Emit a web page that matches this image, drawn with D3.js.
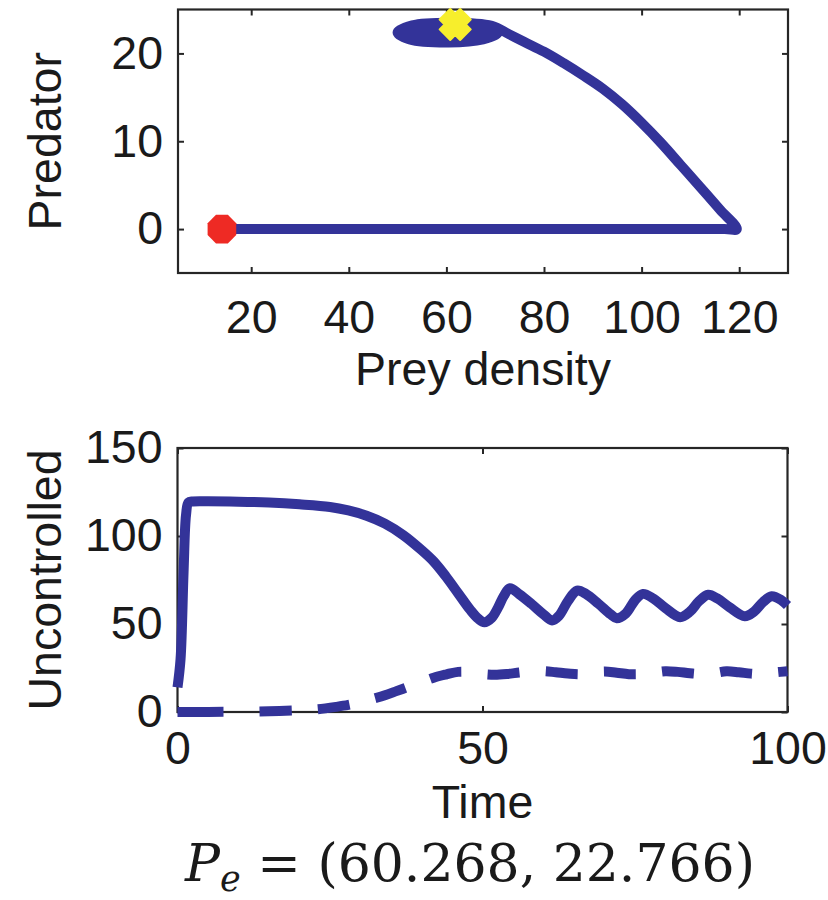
<!DOCTYPE html>
<html>
<head>
<meta charset="utf-8">
<script src="https://cdn.jsdelivr.net/npm/d3@7/dist/d3.min.js"></script>
<style>
    body { margin: 0; background: #fff; }
    svg text { font-family: "Liberation Sans", Arial, sans-serif; fill: #1a1a1a; }
</style>
</head>
<body>
<div id="chart"></div>
<script>
// phase portrait: prey density vs predator
const phasePrey = [14, 50, 90, 117, 119.5,
    116, 112, 108, 104, 100, 96, 92, 88, 84, 80, 76, 72.8,
    69.3, 61, 53, 50, 52.5, 60.5, 67.5,
    70.5, 67.5, 61, 54.5, 52, 54, 60.5, 66.5,
    69, 66.5, 61, 55.5, 53.5, 55.3, 60.5, 65.5,
    67.5, 65.5, 61, 56.5, 55, 56.5, 60.5, 64.5,
    66, 64.5, 61, 57.5, 56.5];
const phasePredator = [0, 0, 0, 0, 0,
    2.25, 4.8, 7.3, 9.8, 12.1, 14.2, 16.0, 17.5, 18.9, 20.2, 21.3, 22.2,
    23.15, 23.5, 23.2, 22.4, 21.6, 21.25, 21.6,
    22.3, 23.0, 23.3, 23.05, 22.4, 21.75, 21.45, 21.75,
    22.3, 22.9, 23.15, 22.95, 22.4, 21.85, 21.6, 21.85,
    22.35, 22.8, 23.0, 22.85, 22.45, 22.0, 21.85, 22.0,
    22.4, 22.75, 22.9, 22.75, 22.5];
const startPoint = [14, 0];
const starPoint = [61.8, 23.3];

// uncontrolled time series
const preyTimes = [0, 0.5, 1.0, 1.4, 1.8, 2.5, 5, 10, 15, 20, 25, 28, 31, 34, 37, 40, 42, 44, 46, 48, 49.3,
    50.3, 51.5, 52.5, 53.5, 54.5, 56, 58, 60, 61.4, 62.5, 64, 65.5, 67, 69, 71, 72, 73.5, 75,
    76.3, 78, 80, 82.4, 84, 85.5, 87, 88.5, 90.5, 93, 94.5, 96, 97.4, 99, 100];
const preyValues = [14, 30, 80, 112, 119, 119.6, 119.7, 119.5, 119, 118, 116.5, 114.5, 111.5, 107, 100.5, 92, 85.5, 77, 67.5, 58, 53,
    51, 53.5, 59, 66, 70.3, 67, 61.5, 55.5, 52, 54.5, 63, 69, 67, 61.5, 55.5, 53.3, 56, 63.5,
    67.1, 64.5, 59, 53.9, 57, 63, 66.6, 64.5, 59.5, 54.4, 57, 62.5, 65.8, 63.5, 60.5];
const predatorTimes = [0, 5, 10, 15, 20, 23, 26, 28, 30, 32, 34, 36, 38, 40, 42, 44, 46, 48, 50,
    52, 54, 56, 58, 60, 62, 64, 66, 68, 70, 72, 74, 76, 78, 80, 82, 84, 86, 88, 90, 92, 94, 96, 98, 100];
const predatorValues = [0, 0.05, 0.15, 0.4, 1, 1.6, 2.9, 4, 5.6, 7.5, 9.5, 12, 14.5, 17, 19.5, 21.3, 22.8, 22.6, 21.6,
    21.2, 21.6, 22.4, 23.1, 23.2, 22.6, 21.9, 21.5, 22.2, 23.0, 22.3, 21.5, 21.5, 22.3, 23.2, 22.8, 22.0,
    21.6, 22.1, 23.1, 22.6, 21.8, 21.6, 22.5, 23.2];

const phaseXTicks = [20, 40, 60, 80, 100, 120];
const phaseYTicks = [0, 10, 20];
const timeXTicks = [0, 50, 100];
const timeYTicks = [0, 50, 100, 150];

const lineColor = "#333399";
const axisColor = "#262626";
const fontSize = 46.5;

let svg = d3.select("#chart").append("svg")
    .attr("width", 828)
    .attr("height", 900);

// draws box, inward ticks on all four sides, labels on left/bottom
function drawFrame(x, y, xTicks, yTicks, xPad) {
    let g = svg.append("g");
    let x0 = x.range()[0], x1 = x.range()[1];
    let y0 = y.range()[0], y1 = y.range()[1];

    g.append("g").attr("transform", "translate(0," + y0 + ")")
        .call(d3.axisBottom(x).tickValues(xTicks).tickSizeInner(-6).tickSizeOuter(0).tickPadding(xPad));
    g.append("g").attr("transform", "translate(" + x0 + ",0)")
        .call(d3.axisLeft(y).tickValues(yTicks).tickSizeInner(-6).tickSizeOuter(0).tickPadding(15));
    g.append("g").attr("transform", "translate(0," + y1 + ")")
        .call(d3.axisTop(x).tickValues(xTicks).tickSizeInner(-6).tickSizeOuter(0).tickFormat(""));
    g.append("g").attr("transform", "translate(" + x1 + ",0)")
        .call(d3.axisRight(y).tickValues(yTicks).tickSizeInner(-6).tickSizeOuter(0).tickFormat(""));

    g.selectAll(".domain").remove();
    g.selectAll(".tick line").attr("stroke", axisColor).attr("stroke-width", 2);
    g.selectAll(".tick text").attr("font-size", fontSize).attr("fill", "#1a1a1a")
        .style("font-family", "'Liberation Sans', Arial, sans-serif");

    g.append("rect")
        .attr("x", x0).attr("y", y1)
        .attr("width", x1 - x0).attr("height", y0 - y1)
        .attr("fill", "none")
        .attr("stroke", axisColor)
        .attr("stroke-width", 2.2);
    return g;
}

// ---- top: phase portrait ----
let px = d3.scaleLinear().domain([5, 130]).range([178, 788]);
let py = d3.scaleLinear().domain([-5, 25]).range([273, 9.5]);

drawFrame(px, py, phaseXTicks, phaseYTicks, 27);

let phaseLine = d3.line()
    .x((d, i) => px(phasePrey[i]))
    .y((d, i) => py(phasePredator[i]))
    .curve(d3.curveCatmullRom.alpha(0.5));

svg.append("path")
    .datum(phasePrey)
    .attr("d", phaseLine)
    .attr("fill", "none")
    .attr("stroke", lineColor)
    .attr("stroke-width", 10)
    .attr("stroke-linejoin", "round")
    .attr("stroke-linecap", "round");

// start marker: octagon
let octagon = d3.range(8).map(k => {
    let a = Math.PI / 8 + k * Math.PI / 4;
    return [15.5 * Math.cos(a), 15.5 * Math.sin(a)];
});
svg.append("polygon")
    .attr("points", octagon.map(p => p.join(",")).join(" "))
    .attr("transform", "translate(" + px(startPoint[0]) + "," + py(startPoint[1]) + ")")
    .attr("fill", "#ee2a24");

// end marker: fat x-shaped star
let w = 7.5, L = 14.5;
let cross = [[w, w], [L, w], [L, -w], [w, -w], [w, -L], [-w, -L], [-w, -w], [-L, -w], [-L, w], [-w, w], [-w, L], [w, L]];
svg.append("polygon")
    .attr("points", cross.map(p => p.join(",")).join(" "))
    .attr("transform", "translate(" + px(starPoint[0]) + "," + py(starPoint[1]) + ") rotate(45)")
    .attr("fill", "#f7ee2c")
    .attr("stroke", "#f7ee2c")
    .attr("stroke-width", 2)
    .attr("stroke-linejoin", "round");

svg.append("text")
    .attr("x", (px.range()[0] + px.range()[1]) / 2)
    .attr("y", 385)
    .attr("text-anchor", "middle")
    .attr("font-size", fontSize)
    .text("Prey density");

svg.append("text")
    .attr("transform", "translate(61," + (py.range()[0] + py.range()[1]) / 2 + ") rotate(-90)")
    .attr("text-anchor", "middle")
    .attr("font-size", fontSize)
    .text("Predator");

// ---- bottom: time series ----
let tx = d3.scaleLinear().domain([0, 100]).range([177.5, 787.5]);
let ty = d3.scaleLinear().domain([0, 150]).range([712, 448]);

drawFrame(tx, ty, timeXTicks, timeYTicks, 19);

let preyLine = d3.line()
    .x((d, i) => tx(preyTimes[i]))
    .y((d, i) => ty(preyValues[i]))
    .curve(d3.curveCatmullRom.alpha(0.5));

let predatorLine = d3.line()
    .x((d, i) => tx(predatorTimes[i]))
    .y((d, i) => ty(predatorValues[i]))
    .curve(d3.curveCatmullRom.alpha(0.5));

svg.append("path")
    .datum(preyTimes)
    .attr("d", preyLine)
    .attr("fill", "none")
    .attr("stroke", lineColor)
    .attr("stroke-width", 10)
    .attr("stroke-linejoin", "round");

// long first dash, then a regular dash pattern
let dashes = [46, 36].concat(d3.range(11).flatMap(() => [32, 26.4]));
svg.append("path")
    .datum(predatorTimes)
    .attr("d", predatorLine)
    .attr("fill", "none")
    .attr("stroke", lineColor)
    .attr("stroke-width", 10)
    .attr("stroke-dasharray", dashes.join(","));

svg.append("text")
    .attr("x", (tx.range()[0] + tx.range()[1]) / 2)
    .attr("y", 818)
    .attr("text-anchor", "middle")
    .attr("font-size", fontSize)
    .text("Time");

svg.append("text")
    .attr("transform", "translate(61," + (ty.range()[0] + ty.range()[1]) / 2 + ") rotate(-90)")
    .attr("text-anchor", "middle")
    .attr("font-size", fontSize)
    .text("Uncontrolled");

// equilibrium caption
let caption = svg.append("text")
    .attr("x", 470)
    .attr("y", 881)
    .attr("text-anchor", "middle")
    .attr("font-size", 52)
    .style("font-family", "'DejaVu Serif', 'Liberation Serif', serif");
caption.append("tspan").attr("font-style", "italic").text("P");
caption.append("tspan").attr("font-style", "italic").attr("font-size", 35).attr("dy", 10).text("e");
caption.append("tspan").attr("dy", -10).text(" = (60.268, 22.766)");
</script>
</body>
</html>
